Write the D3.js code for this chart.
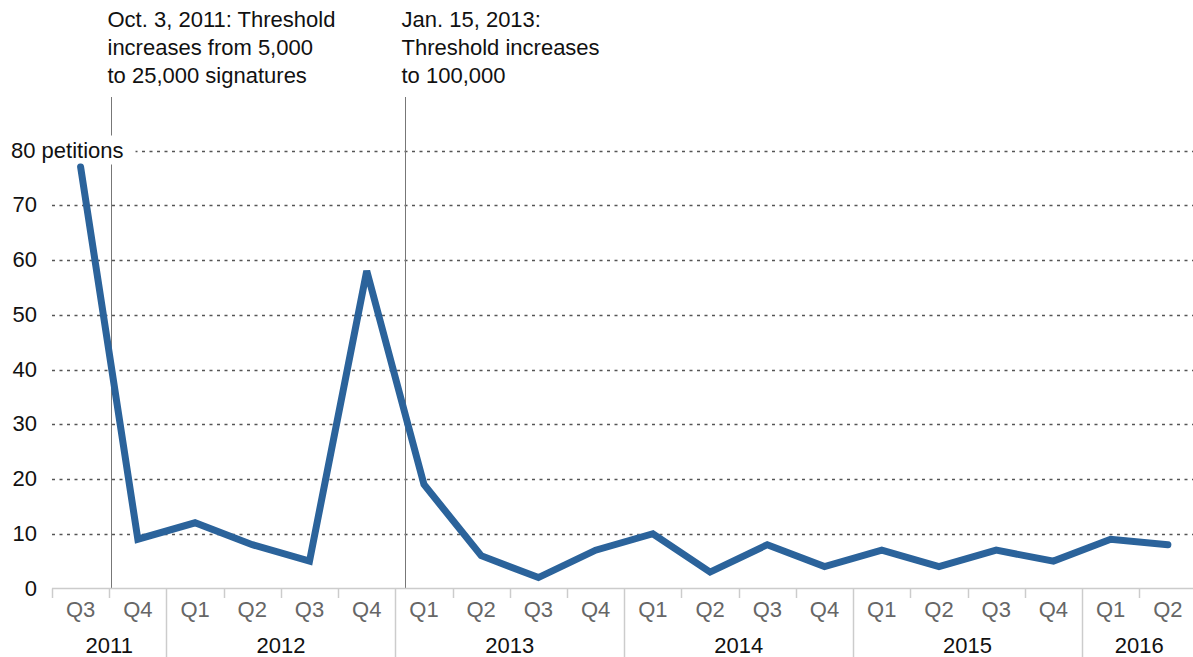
<!DOCTYPE html>
<html>
<head>
<meta charset="utf-8">
<script src="https://cdn.jsdelivr.net/npm/d3@7"></script>
<style>
  body { margin: 0; background: #fff; }
  svg { display: block; font-family: "Liberation Sans", Arial, sans-serif; }
</style>
</head>
<body>
<svg id="chart" width="1193" height="657"></svg>
<script>
const quarters = ["Q3","Q4","Q1","Q2","Q3","Q4","Q1","Q2","Q3","Q4","Q1","Q2","Q3","Q4","Q1","Q2","Q3","Q4","Q1","Q2"];
const years    = ["2011","2011","2012","2012","2012","2012","2013","2013","2013","2013","2014","2014","2014","2014","2015","2015","2015","2015","2016","2016"];
const petitions = [77, 9, 12, 8, 5, 58, 19, 6, 2, 7, 10, 3, 8, 4, 7, 4, 7, 5, 9, 8];
const yTicks = [0, 10, 20, 30, 40, 50, 60, 70, 80];
const annotations = [
  { index: 1, frac: 0.03, lines: ["Oct. 3, 2011: Threshold", "increases from 5,000", "to 25,000 signatures"] },
  { index: 6, frac: 0.16, lines: ["Jan. 15, 2013:", "Threshold increases", "to 100,000"] }
];

const FS = 22;
const keys = quarters.map((q, i) => years[i] + " " + q);
const svg = d3.select("#chart");
const W = 1193, H = 657;
const x = d3.scaleBand().domain(keys).range([52, 1196.5]).padding(0);
const y = d3.scaleLinear().domain([0, 80]).range([588.5, 150.5]);

// gridlines
const grid = svg.append("g");
grid.selectAll("line").data(yTicks.filter(d => d > 0)).join("line")
  .attr("x1", 52).attr("x2", W)
  .attr("y1", d => Math.round(y(d)) + 0.5).attr("y2", d => Math.round(y(d)) + 0.5)
  .attr("stroke", "#555").attr("stroke-width", 1.4).attr("stroke-dasharray", "3,4.5");

// annotation lines
annotations.forEach(a => {
  const k = keys[a.index];
  const ax = Math.round(x(k) + a.frac * x.bandwidth()) + 0.5;
  svg.append("line").attr("x1", ax).attr("x2", ax).attr("y1", 97).attr("y2", y(0))
    .attr("stroke", "#777").attr("stroke-width", 1);
  const t = svg.append("text").attr("x", ax - 4).attr("y", 27)
    .attr("font-size", FS).attr("fill", "#111");
  a.lines.forEach((l, i) => t.append("tspan").attr("x", ax - 4).attr("dy", i === 0 ? 0 : 28).text(l));
});

// y labels
const yl = svg.append("g");
yTicks.forEach(d => {
  if (d === 80) {
    const g = yl.append("g");
    const tx = g.append("text").attr("x", 11).attr("y", y(d) + 7).attr("font-size", FS).attr("fill", "#111")
      .text("80 petitions");
    const bb = tx.node().getBBox();
    g.insert("rect", "text").attr("x", bb.x - 2).attr("y", bb.y - 2).attr("width", bb.width + 14).attr("height", bb.height + 4)
      .attr("fill", "#fff");
  } else {
    yl.append("text").attr("x", 37).attr("y", y(d) + 7).attr("text-anchor", "end")
      .attr("font-size", FS).attr("fill", "#111").text(d);
  }
});

// x axis line
svg.append("line").attr("x1", 52).attr("x2", W).attr("y1", 588.5).attr("y2", 588.5)
  .attr("stroke", "#ccc").attr("stroke-width", 1.5);

// quarter ticks & labels
keys.forEach((k, i) => {
  const x0 = Math.round(x(k)) + 0.5;
  const isYearStart = i > 0 && years[i] !== years[i - 1];
  svg.append("line").attr("x1", x0).attr("x2", x0).attr("y1", 588.5).attr("y2", isYearStart ? H : 598)
    .attr("stroke", "#ccc").attr("stroke-width", 1.5);
  svg.append("text").attr("x", x(k) + x.bandwidth() / 2).attr("y", 617).attr("text-anchor", "middle")
    .attr("font-size", FS).attr("fill", "#666").text(quarters[i]);
});

// year labels
const yearGroups = d3.groups(keys.map((k, i) => ({ k, yr: years[i] })), d => d.yr);
yearGroups.forEach(([yr, items]) => {
  const x0 = x(items[0].k), x1 = x(items[items.length - 1].k) + x.bandwidth();
  svg.append("text").attr("x", (x0 + x1) / 2).attr("y", 653).attr("text-anchor", "middle")
    .attr("font-size", FS).attr("fill", "#111").text(yr);
});

// line
const line = d3.line().x((d, i) => x(keys[i]) + x.bandwidth() / 2).y(d => y(d));
svg.append("path").datum(petitions).attr("d", line)
  .attr("fill", "none").attr("stroke", "#2b639b").attr("stroke-width", 7)
  .attr("stroke-linejoin", "miter").attr("stroke-linecap", "round");
</script>
</body>
</html>
